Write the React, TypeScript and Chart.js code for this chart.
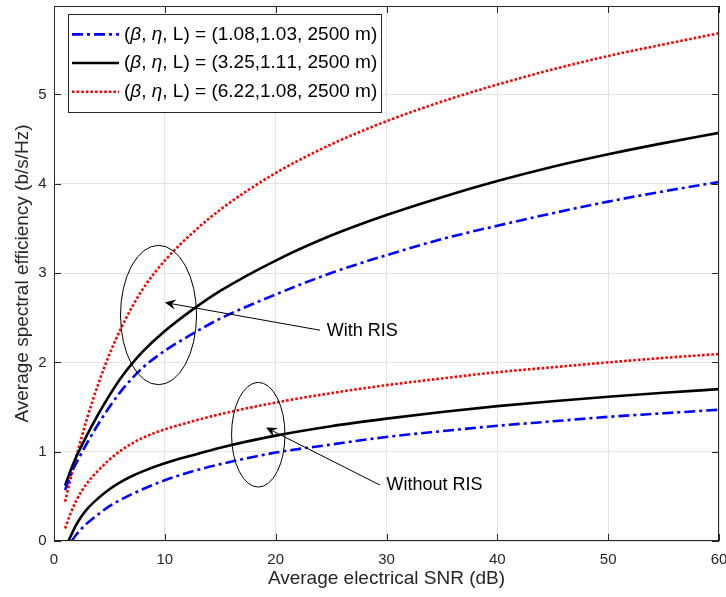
import React, { useEffect, useRef } from "react";
import { Chart, registerables } from "chart.js";

Chart.register(...registerables);

// ---------- data ----------
const snrWithRis = [1, 1.5, 2, 3, 4, 5, 6, 7, 8, 10, 12.5, 15, 20, 25, 30, 35, 40, 45, 50, 55, 60];
const seWithRisA = [0.57, 0.74, 0.87, 1.1, 1.31, 1.5, 1.67, 1.815, 1.94, 2.13, 2.32, 2.49, 2.76, 3.0, 3.2, 3.38, 3.53, 3.67, 3.8, 3.915, 4.02];
const seWithRisB = [0.62, 0.79, 0.94, 1.19, 1.42, 1.63, 1.82, 1.98, 2.12, 2.35, 2.59, 2.8, 3.14, 3.42, 3.65, 3.85, 4.03, 4.19, 4.33, 4.455, 4.57];
const seWithRisC = [0.44, 0.7, 0.94, 1.38, 1.76, 2.09, 2.37, 2.61, 2.82, 3.14, 3.45, 3.71, 4.12, 4.44, 4.7, 4.92, 5.11, 5.28, 5.43, 5.56, 5.685];

const snrWithoutA = [1.6, 2, 2.5, 3, 4, 5, 6, 8, 10, 12.5, 15, 20, 25, 30, 35, 40, 45, 50, 55, 60];
const seWithoutA = [0, 0.07, 0.14, 0.2, 0.3, 0.39, 0.46, 0.58, 0.68, 0.78, 0.86, 0.99, 1.08, 1.165, 1.23, 1.29, 1.34, 1.39, 1.43, 1.47];
const snrWithoutB = [1.3, 2, 2.5, 3, 4, 5, 6, 7, 8, 10, 12.5, 15, 20, 25, 30, 35, 40, 45, 50, 55, 60];
const seWithoutB = [0, 0.18, 0.28, 0.36, 0.48, 0.58, 0.66, 0.725, 0.78, 0.87, 0.96, 1.045, 1.18, 1.285, 1.37, 1.445, 1.51, 1.565, 1.615, 1.66, 1.7];
const snrWithoutC = [1, 1.5, 2, 2.5, 3, 4, 5, 6, 7, 8, 10, 12.5, 15, 20, 25, 30, 35, 40, 45, 50, 55, 60];
const seWithoutC = [0.14, 0.31, 0.45, 0.56, 0.65, 0.79, 0.91, 1.01, 1.09, 1.155, 1.25, 1.34, 1.42, 1.55, 1.655, 1.745, 1.82, 1.89, 1.945, 2.0, 2.05, 2.094];

const seriesNames = [
  "(β, η, L) = (1.08,1.03, 2500 m)",
  "(β, η, L) = (3.25,1.11, 2500 m)",
  "(β, η, L) = (6.22,1.08, 2500 m)",
];

const xTitle = "Average electrical SNR (dB)";
const yTitle = "Average spectral efficiency (b/s/Hz)";
const xRange = [0, 60];
const yRange = [0, 5.99];

// annotations, in data units
const groupNotes = [
  { label: "With RIS", cx: 9.43, cy: 2.53, rx: 3.43, ry: 0.78, tip: [10.0, 2.67], tail: [24.0, 2.36], text: [24.6, 2.35] },
  { label: "Without RIS", cx: 18.43, cy: 1.19, rx: 2.41, ry: 0.586, tip: [19.13, 1.27], tail: [29.4, 0.627], text: [30.0, 0.627] },
];

// ---------- styles ----------
const FONT = "'Liberation Sans', Arial, Helvetica, sans-serif";
const AXIS_COLOR = "#262626";
const GRID_COLOR = "#e3e3e3";
const styleA = { borderColor: "#0000ff", borderWidth: 2.6, borderDash: [11, 4, 3, 4] };
const styleB = { borderColor: "#000000", borderWidth: 2.6, borderDash: [] as number[] };
const styleC = { borderColor: "#ff0000", borderWidth: 2.6, borderDash: [2.6, 2] };

const toPoints = (xs: number[], ys: number[]) => xs.map((x, i) => ({ x, y: ys[i] }));

// frame with inward ticks (MATLAB "box on")
const framePlugin = {
  id: "matlabFrame",
  afterDatasetsDraw(chart: any) {
    const { ctx, chartArea, scales } = chart;
    const { left, right, top, bottom } = chartArea;
    const tl = 7;
    ctx.save();
    ctx.strokeStyle = AXIS_COLOR;
    ctx.lineWidth = 1;
    ctx.beginPath();
    scales.x.ticks.forEach((t: any) => {
      const px = Math.round(scales.x.getPixelForValue(t.value)) + 0.5;
      ctx.moveTo(px, bottom);
      ctx.lineTo(px, bottom - tl);
      ctx.moveTo(px, top);
      ctx.lineTo(px, top + tl);
    });
    scales.y.ticks.forEach((t: any) => {
      const py = Math.round(scales.y.getPixelForValue(t.value)) + 0.5;
      ctx.moveTo(left, py);
      ctx.lineTo(left + tl, py);
      ctx.moveTo(right, py);
      ctx.lineTo(right - tl, py);
    });
    ctx.stroke();
    ctx.strokeRect(Math.round(left) + 0.5, Math.round(top) + 0.5, Math.round(right - left) - 1, Math.round(bottom - top) - 1);
    ctx.restore();
  },
};

// annotations: ellipses, arrows, labels
const notesPlugin = {
  id: "groupNotes",
  afterDatasetsDraw(chart: any) {
    const { ctx, scales } = chart;
    const X = (v: number) => scales.x.getPixelForValue(v);
    const Y = (v: number) => scales.y.getPixelForValue(v);
    ctx.save();
    ctx.strokeStyle = "#000";
    ctx.fillStyle = "#000";
    ctx.lineWidth = 1;
    groupNotes.forEach((n) => {
      const cx = X(n.cx), cy = Y(n.cy);
      const rx = Math.abs(X(n.cx + n.rx) - cx), ry = Math.abs(Y(n.cy + n.ry) - cy);
      ctx.beginPath();
      ctx.ellipse(cx, cy, rx, ry, 0, 0, Math.PI * 2);
      ctx.stroke();
      const tx = X(n.tip[0]), ty = Y(n.tip[1]);
      const sx = X(n.tail[0]), sy = Y(n.tail[1]);
      const ang = Math.atan2(ty - sy, tx - sx);
      const hl = 11, hw = 5, notch = 7;
      const bx = tx - Math.cos(ang) * notch, by = ty - Math.sin(ang) * notch;
      ctx.beginPath();
      ctx.moveTo(sx, sy);
      ctx.lineTo(bx, by);
      ctx.stroke();
      const px = -Math.sin(ang), py = Math.cos(ang);
      const ex = tx - Math.cos(ang) * hl, ey = ty - Math.sin(ang) * hl;
      ctx.beginPath();
      ctx.moveTo(tx, ty);
      ctx.lineTo(ex + px * hw, ey + py * hw);
      ctx.lineTo(bx, by);
      ctx.lineTo(ex - px * hw, ey - py * hw);
      ctx.closePath();
      ctx.fill();
      ctx.font = `18px ${FONT}`;
      ctx.textAlign = "left";
      ctx.textBaseline = "middle";
      ctx.fillText(n.label, X(n.text[0]), Y(n.text[1]));
    });
    ctx.restore();
  },
};

// legend box in the upper-left corner of the axes
const legendPlugin = {
  id: "boxLegend",
  afterDraw(chart: any) {
    const { ctx, chartArea } = chart;
    const items = chart.data.datasets.filter((d: any) => d.inLegend);
    const size = 19;
    const font = `${size}px ${FONT}`;
    const italic = `italic ${size}px ${FONT}`;
    const greek = /[α-ω]/;
    const measure = (s: string) => {
      let w = 0;
      for (const ch of s) {
        ctx.font = greek.test(ch) ? italic : font;
        w += ctx.measureText(ch).width;
      }
      return w;
    };
    ctx.save();
    const sample = 47, padL = 4, gap = 5, padR = 4, rowH = 28.7, padV = 6;
    const textW = Math.max(...items.map((d: any) => measure(d.label)));
    const bx = chartArea.left + 14, by = chartArea.top + 8;
    const bw = padL + sample + gap + textW + padR;
    const bh = items.length * rowH + padV * 2;
    ctx.fillStyle = "#fff";
    ctx.fillRect(bx, by, bw, bh);
    ctx.strokeStyle = AXIS_COLOR;
    ctx.lineWidth = 1;
    ctx.strokeRect(Math.round(bx) + 0.5, Math.round(by) + 0.5, Math.round(bw), Math.round(bh));
    items.forEach((d: any, i: number) => {
      const cy = by + padV + rowH * (i + 0.5);
      ctx.beginPath();
      ctx.strokeStyle = d.borderColor;
      ctx.lineWidth = d.borderWidth;
      ctx.setLineDash(d.borderDash || []);
      ctx.moveTo(bx + padL, cy);
      ctx.lineTo(bx + padL + sample, cy);
      ctx.stroke();
      ctx.setLineDash([]);
      ctx.fillStyle = "#000";
      ctx.textBaseline = "middle";
      ctx.textAlign = "left";
      let x = bx + padL + sample + gap;
      for (const ch of d.label as string) {
        ctx.font = greek.test(ch) ? italic : font;
        ctx.fillText(ch, x, cy);
        x += ctx.measureText(ch).width;
      }
    });
    ctx.restore();
  },
};

export default function App() {
  const canvasRef = useRef<HTMLCanvasElement | null>(null);

  useEffect(() => {
    const canvas = canvasRef.current;
    if (!canvas) return;
    const common = { pointRadius: 0, fill: false, cubicInterpolationMode: "monotone" as const, borderCapStyle: "butt" as const };
    const chart = new Chart(canvas, {
      type: "line",
      data: {
        datasets: [
          { label: seriesNames[0], data: toPoints(snrWithRis, seWithRisA), ...styleA, ...common, inLegend: true },
          { label: seriesNames[1], data: toPoints(snrWithRis, seWithRisB), ...styleB, ...common, inLegend: true },
          { label: seriesNames[2], data: toPoints(snrWithRis, seWithRisC), ...styleC, ...common, inLegend: true },
          { label: seriesNames[0] + " w/o RIS", data: toPoints(snrWithoutA, seWithoutA), ...styleA, ...common, inLegend: false },
          { label: seriesNames[1] + " w/o RIS", data: toPoints(snrWithoutB, seWithoutB), ...styleB, ...common, inLegend: false },
          { label: seriesNames[2] + " w/o RIS", data: toPoints(snrWithoutC, seWithoutC), ...styleC, ...common, inLegend: false },
        ] as any,
      },
      options: {
        animation: false,
        responsive: false,
        maintainAspectRatio: false,
        events: [],
        layout: { padding: { top: 6, right: 7, left: 0, bottom: 0 } },
        plugins: { legend: { display: false }, tooltip: { enabled: false } },
        scales: {
          x: {
            type: "linear",
            min: xRange[0],
            max: xRange[1],
            ticks: { stepSize: 10, padding: 10, color: AXIS_COLOR, font: { family: FONT, size: 15 }, maxRotation: 0 },
            grid: { color: GRID_COLOR, drawTicks: false },
            border: { display: false },
            title: { display: true, text: xTitle, color: AXIS_COLOR, font: { family: FONT, size: 19 }, padding: { top: 0, bottom: 7 } },
            afterFit: (s: any) => {
              s.height = 56;
              s.paddingLeft = 0;
              s.paddingRight = 0;
            },
          },
          y: {
            type: "linear",
            min: yRange[0],
            max: yRange[1],
            ticks: { stepSize: 1, includeBounds: false, padding: 7.5, color: AXIS_COLOR, font: { family: FONT, size: 15 } },
            grid: { color: GRID_COLOR, drawTicks: false },
            border: { display: false },
            title: { display: true, text: yTitle, color: AXIS_COLOR, font: { family: FONT, size: 19 }, padding: { top: 11, bottom: 0 } },
            afterFit: (s: any) => {
              s.width = 54;
              s.paddingTop = 0;
              s.paddingBottom = 0;
            },
          },
        },
      } as any,
      plugins: [framePlugin, notesPlugin, legendPlugin],
    });
    return () => chart.destroy();
  }, []);

  return (
    <div style={{ position: "fixed", left: 0, top: 0, width: 726, height: 597, background: "#fff" }}>
      <canvas ref={canvasRef} width={726} height={597} style={{ display: "block" }} />
    </div>
  );
}
